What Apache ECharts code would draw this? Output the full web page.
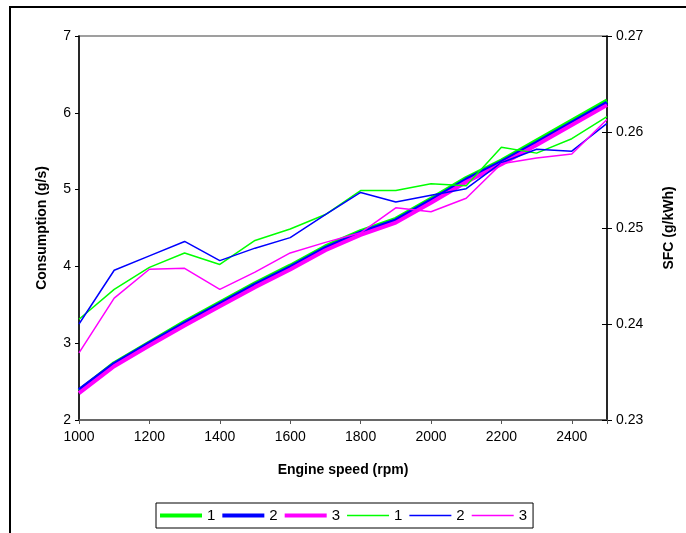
<!DOCTYPE html>
<html>
<head>
<meta charset="utf-8">
<script src="https://cdn.jsdelivr.net/npm/echarts@6/dist/echarts.min.js"></script>
<style>
  html, body { margin: 0; padding: 0; background: #fff; }
  #chart { width: 686px; height: 533px; }
</style>
</head>
<body>
<div id="chart"></div>
<script>
// engine speed (rpm)
var rpm = [1000, 1100, 1200, 1300, 1400, 1500, 1600, 1700, 1800, 1900, 2000, 2100, 2200, 2300, 2400, 2500];

// consumption (g/s), left axis
var cons1 = [2.38, 2.74, 3.01, 3.28, 3.53, 3.78, 4.01, 4.26, 4.46, 4.62, 4.88, 5.15, 5.38, 5.64, 5.90, 6.16];
var cons2 = [2.39, 2.73, 3.00, 3.26, 3.51, 3.76, 3.99, 4.24, 4.44, 4.60, 4.86, 5.13, 5.36, 5.61, 5.87, 6.13];
var cons3 = [2.35, 2.70, 2.97, 3.23, 3.48, 3.73, 3.96, 4.21, 4.41, 4.57, 4.83, 5.10, 5.33, 5.58, 5.84, 6.10];

// SFC (g/kWh), right axis
var sfc1 = [0.2405, 0.2436, 0.2459, 0.2474, 0.2462, 0.2487, 0.2499, 0.2514, 0.2539, 0.2539, 0.2546, 0.2544, 0.2584, 0.2578, 0.2593, 0.2616];
var sfc2 = [0.2400, 0.2456, 0.2471, 0.2486, 0.2466, 0.2479, 0.2490, 0.2514, 0.2537, 0.2527, 0.2534, 0.2541, 0.2568, 0.2582, 0.2580, 0.2609];
var sfc3 = [0.2370, 0.2427, 0.2457, 0.2458, 0.2436, 0.2454, 0.2474, 0.2485, 0.2495, 0.2521, 0.2517, 0.2531, 0.2567, 0.2573, 0.2577, 0.2613];

var legendLabels = ['1', '2', '3', '1', '2', '3'];
var seriesIds = ['c1', 'c2', 'c3', 's1', 's2', 's3'];

var FONT = '"Liberation Sans", Arial, sans-serif';
var THICK = 'path://M0,0L42,0L42,4L0,4Z';
var THIN = 'path://M0,0L42,0L42,1.5L0,1.5Z';

function pairs(ys) {
    var res = [];
    for (var i = 0; i < rpm.length; i++) {
        res.push([rpm[i], ys[i]]);
    }
    return res;
}

function lineSeries(id, ys, axis, color, width) {
    return {
        name: id,
        type: 'line',
        yAxisIndex: axis,
        data: pairs(ys),
        symbol: 'none',
        smooth: false,
        lineStyle: { color: color, width: width },
        itemStyle: { color: color },
        emphasis: { disabled: true },
        animation: false
    };
}

var legendData = [];
for (var k = 0; k < seriesIds.length; k++) {
    legendData.push({ name: seriesIds[k], icon: k < 3 ? THICK : THIN });
}

var chart = echarts.init(document.getElementById('chart'));

var option = {
    backgroundColor: '#fff',
    graphic: [{
        type: 'rect',
        shape: { x: 10, y: 7, width: 900, height: 900 },
        style: { fill: 'none', stroke: '#000', lineWidth: 2 },
        silent: true
    }],
    grid: {
        left: 79, right: 79, top: 36, bottom: 113,
        show: true,
        borderColor: '#808080',
        borderWidth: 1.5
    },
    legend: {
        left: 156,
        top: 503,
        padding: [5, 6, 5, 4],
        itemWidth: 42,
        itemHeight: 12,
        itemGap: 7,
        borderColor: '#000',
        borderWidth: 1,
        data: legendData,
        formatter: function (name) {
            return legendLabels[seriesIds.indexOf(name)];
        },
        textStyle: { fontFamily: FONT, fontSize: 15, color: '#000' }
    },
    xAxis: {
        type: 'value',
        min: 1000,
        max: 2500,
        interval: 200,
        name: 'Engine speed (rpm)',
        nameLocation: 'middle',
        nameGap: 43,
        nameTextStyle: { fontFamily: FONT, fontSize: 14, fontWeight: 'bold', color: '#000' },
        axisLine: { lineStyle: { color: '#555', width: 1.5 } },
        axisTick: { show: true, length: 4, lineStyle: { color: '#555' } },
        axisLabel: {
            margin: 10,
            fontFamily: FONT, fontSize: 14, color: '#000',
            formatter: function (v) { return v === 2500 ? '' : String(v); }
        },
        splitLine: { show: false }
    },
    yAxis: [{
        type: 'value',
        position: 'left',
        min: 2,
        max: 7,
        interval: 1,
        name: 'Consumption (g/s)',
        nameLocation: 'middle',
        nameRotate: 90,
        nameGap: 30,
        nameTextStyle: { fontFamily: FONT, fontSize: 14, fontWeight: 'bold', color: '#000' },
        axisLine: { show: true, lineStyle: { color: '#000', width: 1.5 } },
        axisTick: { show: true, length: 4, lineStyle: { color: '#000' } },
        axisLabel: { margin: 8, fontFamily: FONT, fontSize: 14, color: '#000' },
        splitLine: { show: false }
    }, {
        type: 'value',
        position: 'right',
        min: 0.23,
        max: 0.27,
        interval: 0.01,
        name: 'SFC (g/kWh)',
        nameLocation: 'middle',
        nameRotate: 90,
        nameGap: 55,
        nameTextStyle: { fontFamily: FONT, fontSize: 14, fontWeight: 'bold', color: '#000' },
        axisLine: { show: true, lineStyle: { color: '#000', width: 1.5 } },
        axisTick: { show: true, length: 5, lineStyle: { color: '#000' } },
        axisLabel: {
            margin: 9, fontFamily: FONT, fontSize: 14, color: '#000',
            formatter: function (v) { return v.toFixed(2); }
        },
        splitLine: { show: false }
    }, {
        // inner half of the crossing ticks on the right axis
        type: 'value',
        position: 'right',
        min: 0.23,
        max: 0.27,
        interval: 0.01,
        axisLine: { show: false },
        axisTick: { show: true, inside: true, length: 5, lineStyle: { color: '#000' } },
        axisLabel: { show: false },
        splitLine: { show: false }
    }],
    series: [
        lineSeries('c1', cons1, 0, '#00ff00', 4),
        lineSeries('c2', cons2, 0, '#0000ff', 4),
        lineSeries('c3', cons3, 0, '#ff00ff', 4),
        lineSeries('s1', sfc1, 1, '#00ff00', 1.5),
        lineSeries('s2', sfc2, 1, '#0000ff', 1.5),
        lineSeries('s3', sfc3, 1, '#ff00ff', 1.5)
    ]
};

chart.setOption(option);
</script>
</body>
</html>
